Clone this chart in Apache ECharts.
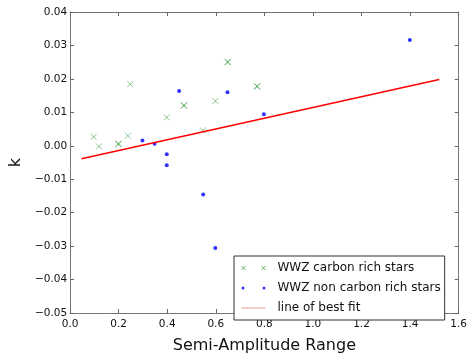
<!DOCTYPE html>
<html>
<head>
<meta charset="utf-8">
<script src="https://cdn.jsdelivr.net/npm/echarts@6/dist/echarts.min.js"></script>
<style>html,body{margin:0;padding:0;background:#fff}#c{width:470px;height:359px}</style>
</head>
<body>
<div id="c"></div>
<script>
// Carbon rich stars (x markers)
const carbonX = [0.097, 0.119, 0.198, 0.200, 0.238, 0.248, 0.398, 0.468, 0.470, 0.547, 0.598, 0.648, 0.650, 0.769, 0.771];
const carbonY = [0.0027, -0.0002, 0.0005, 0.0006, 0.0030, 0.0184, 0.0085, 0.0120, 0.0121, 0.0046, 0.0134, 0.0251, 0.0250, 0.0178, 0.0177];
// Non carbon rich stars (dots)
const nonCarbonX = [0.298, 0.348, 0.398, 0.398, 0.449, 0.548, 0.598, 0.648, 0.798, 1.399];
const nonCarbonY = [0.0016, 0.0006, -0.0025, -0.0058, 0.0164, -0.0146, -0.0306, 0.0160, 0.0094, 0.0316];
// Line of best fit endpoints
const fitX = [0.047, 1.52];
const fitY = [-0.0039, 0.0198];

const names = ['WWZ carbon rich stars', 'WWZ non carbon rich stars', 'line of best fit'];

const zip = (a, b) => a.map((v, i) => [v, b[i]]);
const FONT = 'DejaVu Sans';
const minus = s => String(s).replace('-', '\u2212');
const tickStyle = {show: true, inside: true, length: 4, lineStyle: {color: '#666'}};
const lineStyleAx = {show: true, onZero: false, lineStyle: {color: '#777', width: 1}};

const chart = echarts.init(document.getElementById('c'), null, {renderer: 'canvas'});
chart.setOption({
  animation: false,
  backgroundColor: '#fff',
  textStyle: {fontFamily: FONT},
  grid: {left: 64, right: 9, top: 12, bottom: 40, containLabel: false},
  xAxis: [{
    type: 'value', min: 0, max: 1.6, interval: 0.2,
    name: 'Semi-Amplitude Range', nameLocation: 'middle', nameGap: 25,
    nameTextStyle: {fontFamily: FONT, fontSize: 16, color: '#111'},
    axisLine: lineStyleAx, axisTick: tickStyle, splitLine: {show: false},
    axisLabel: {margin: 6, fontFamily: FONT, fontSize: 10.5, color: '#111', formatter: v => minus(v.toFixed(1))}
  }, {
    type: 'value', position: 'top', min: 0, max: 1.6, interval: 0.2,
    axisLine: lineStyleAx, axisTick: tickStyle, axisLabel: {show: false}, splitLine: {show: false}
  }],
  yAxis: [{
    type: 'value', min: -0.05, max: 0.04, interval: 0.01,
    name: 'k', nameLocation: 'middle', nameGap: 44, nameRotate: 90,
    nameTextStyle: {fontFamily: FONT, fontSize: 16, color: '#111'},
    axisLine: lineStyleAx, axisTick: tickStyle, splitLine: {show: false},
    axisLabel: {margin: 3, fontFamily: FONT, fontSize: 10.5, color: '#111', formatter: v => minus(v.toFixed(2))}
  }, {
    type: 'value', position: 'right', min: -0.05, max: 0.04, interval: 0.01,
    axisLine: lineStyleAx, axisTick: tickStyle, axisLabel: {show: false}, splitLine: {show: false}
  }],
  legend: {
    orient: 'vertical', left: 234, top: 256, width: 220,
    padding: [6, 4, 6, 7], itemGap: 8, itemWidth: 24, itemHeight: 8,
    borderColor: '#333', borderWidth: 1, backgroundColor: '#fff',
    textStyle: {fontFamily: FONT, fontSize: 12, color: '#111', padding: [0, 0, 0, 7]},
    data: [
      {name: names[0], icon: 'path://M0,0L4,4M4,0L0,4M20,0L24,4M24,0L20,4',
       itemStyle: {color: 'transparent', borderColor: 'rgba(0,128,0,0.7)', borderWidth: 1}},
      {name: names[1], icon: 'path://M0,1.5A1.5,1.5 0 1 1 3,1.5A1.5,1.5 0 1 1 0,1.5ZM21,1.5A1.5,1.5 0 1 1 24,1.5A1.5,1.5 0 1 1 21,1.5Z',
       itemStyle: {color: '#0000ff'}},
      {name: names[2], icon: 'path://M0,0L24,0L24,1L0,1Z', itemStyle: {color: 'rgba(220,80,80,0.6)'}}
    ]
  },
  series: [{
    name: names[0], type: 'scatter', xAxisIndex: 0, yAxisIndex: 0,
    data: zip(carbonX, carbonY),
    symbol: 'path://M0,0L10,10M10,0L0,10', symbolSize: 6,
    itemStyle: {color: 'transparent', borderColor: 'rgba(0,128,0,0.55)', borderWidth: 1},
    z: 3
  }, {
    name: names[1], type: 'scatter', xAxisIndex: 0, yAxisIndex: 0,
    data: zip(nonCarbonX, nonCarbonY),
    symbol: 'circle', symbolSize: 4,
    itemStyle: {color: '#0000ff'},
    z: 3
  }, {
    name: names[2], type: 'line', xAxisIndex: 0, yAxisIndex: 0,
    data: zip(fitX, fitY), showSymbol: false, symbol: 'none',
    lineStyle: {color: '#ff0000', width: 1.5},
    itemStyle: {color: '#ff0000'},
    z: 4
  }]
});
</script>
</body>
</html>
